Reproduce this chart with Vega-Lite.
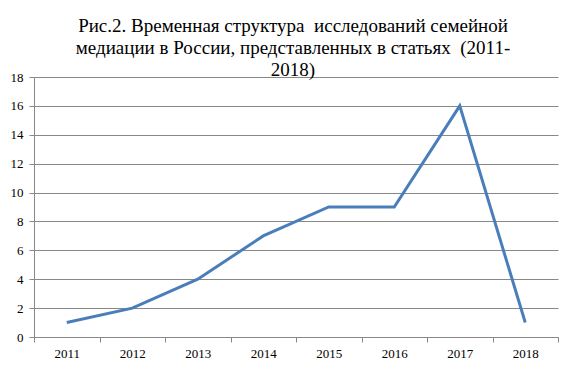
{
  "$schema": "https://vega.github.io/schema/vega-lite/v6.json",
  "autosize": "none",
  "width": 524,
  "height": 260,
  "padding": {"left": 34, "top": 77, "right": 27, "bottom": 37},
  "background": "white",
  "title": {
    "text": ["Рис.2. Временная структура \u00a0исследований семейной", "медиации в России, представленных в статьях \u00a0(2011-", "2018)"],
    "anchor": "middle",
    "font": "Liberation Serif",
    "fontSize": 19,
    "fontWeight": "normal",
    "color": "black",
    "lineHeight": 22,
    "offset": -7,
    "dy": 2,
    "dx": -3
  },
  "data": {
    "values": [
      {"year": "2011", "count": 1},
      {"year": "2012", "count": 2},
      {"year": "2013", "count": 4},
      {"year": "2014", "count": 7},
      {"year": "2015", "count": 9},
      {"year": "2016", "count": 9},
      {"year": "2017", "count": 16},
      {"year": "2018", "count": 1}
    ]
  },
  "config": {
    "view": {"stroke": null},
    "font": "Liberation Serif",
    "axis": {
      "labelFont": "Liberation Serif",
      "labelFontSize": 13,
      "labelColor": "black",
      "domainColor": "#888888",
      "tickColor": "#888888",
      "gridColor": "#888888",
      "title": null
    }
  },
  "mark": {"type": "line", "color": "#4A7EBB", "strokeWidth": 3},
  "encoding": {
    "x": {
      "field": "year",
      "type": "ordinal",
      "scale": {"type": "band", "paddingInner": 0, "paddingOuter": 0},
      "axis": {"labelAngle": 0, "tickBand": "extent", "tickSize": 5, "labelPadding": 5, "grid": false, "domain": true}
    },
    "y": {
      "field": "count",
      "type": "quantitative",
      "scale": {"domain": [0, 18], "nice": false},
      "axis": {"values": [0, 2, 4, 6, 8, 10, 12, 14, 16, 18], "tickSize": 5, "labelPadding": 6, "grid": true, "domain": true}
    }
  }
}
